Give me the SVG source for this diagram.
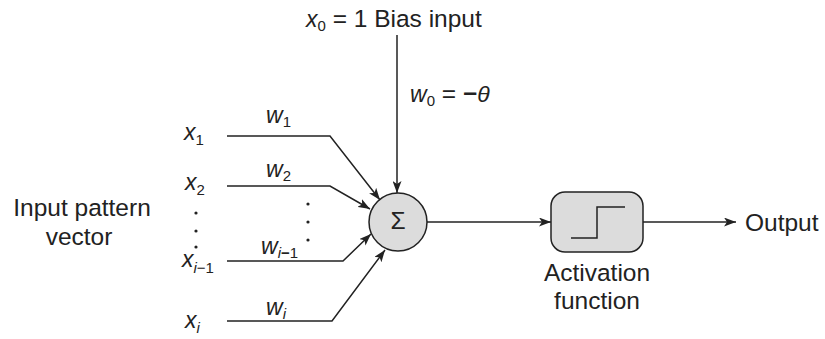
<svg xmlns="http://www.w3.org/2000/svg" width="825" height="339" viewBox="0 0 825 339">
<style>
.t{font-family:"Liberation Sans",Arial,sans-serif;font-size:24.5px;fill:#222}
.v{font-family:"Liberation Sans",Arial,sans-serif;font-style:italic;font-size:23px;fill:#222}
.s{font-family:"Liberation Sans",Arial,sans-serif;font-size:15px;fill:#222}
.si{font-family:"Liberation Sans",Arial,sans-serif;font-style:italic;font-size:15px;fill:#222}
.ln{fill:none;stroke:#222;stroke-width:1.5}
.dot{fill:#222}
</style>
<defs>
<marker id="ah" markerUnits="userSpaceOnUse" markerWidth="12" markerHeight="9" refX="12" refY="4.5" orient="auto">
<path d="M0,0 L12,4.5 L0,9 L3,4.5 z" fill="#222"/>
</marker>
</defs>
<rect width="825" height="339" fill="#fff"/>
<g id="connectors">
<polyline class="ln" points="397,35 397,193" marker-end="url(#ah)"/>
<polyline class="ln" points="227,136 330,136 380,200" marker-end="url(#ah)"/>
<polyline class="ln" points="227,186 330,186 370,209" marker-end="url(#ah)"/>
<polyline class="ln" points="227,261 343,261 371,234" marker-end="url(#ah)"/>
<polyline class="ln" points="227,321 332,321 385,250" marker-end="url(#ah)"/>
<line class="ln" x1="427" y1="222" x2="551" y2="222" marker-end="url(#ah)"/>
<line class="ln" x1="643" y1="222" x2="736" y2="222" marker-end="url(#ah)"/>
</g>
<g id="bias">
<text x="306" y="27"><tspan class="v">x</tspan><tspan class="s" dy="4">0</tspan><tspan class="t" dy="-4"> = 1 Bias input</tspan></text>
</g>
<g id="w0">
<text x="410" y="102"><tspan class="v">w</tspan><tspan class="s" dy="4">0</tspan><tspan class="t" dy="-4"> = </tspan><tspan class="t" font-weight="bold">−</tspan><tspan class="v">θ</tspan></text>
</g>
<g id="input-label">
<text class="t" x="82" y="216" text-anchor="middle">Input pattern</text>
<text class="t" x="79" y="245" text-anchor="middle">vector</text>
</g>
<g id="inputs">
<text x="184" y="140"><tspan class="v">x</tspan><tspan class="s" dy="5">1</tspan></text>
<text x="185" y="190"><tspan class="v">x</tspan><tspan class="s" dy="5">2</tspan></text>
<circle class="dot" cx="196" cy="213" r="1.6"/>
<circle class="dot" cx="196" cy="231" r="1.6"/>
<circle class="dot" cx="196" cy="247" r="1.6"/>
<text x="182" y="267"><tspan class="v">x</tspan><tspan class="si" dy="6">i</tspan><tspan class="s">−1</tspan></text>
<text x="185" y="328"><tspan class="v">x</tspan><tspan class="si" dy="5">i</tspan></text>
</g>
<g id="weights">
<text x="266" y="123"><tspan class="v">w</tspan><tspan class="s" dy="4">1</tspan></text>
<text x="266" y="177"><tspan class="v">w</tspan><tspan class="s" dy="4">2</tspan></text>
<circle class="dot" cx="308" cy="204" r="1.6"/>
<circle class="dot" cx="308" cy="222" r="1.6"/>
<circle class="dot" cx="308" cy="240" r="1.6"/>
<text x="261" y="254"><tspan class="v">w</tspan><tspan class="si" dy="4">i</tspan><tspan class="s" font-weight="bold">−</tspan><tspan class="s">1</tspan></text>
<text x="266" y="315"><tspan class="v">w</tspan><tspan class="si" dy="4">i</tspan></text>
</g>
<g id="sum">
<circle cx="398" cy="222" r="29" fill="#dcdcdc" stroke="#222" stroke-width="1.5"/>
<text class="t" x="398" y="229" text-anchor="middle" font-size="20">Σ</text>
</g>
<g id="activation">
<rect x="551" y="192" width="92" height="60" rx="14" fill="#dcdcdc" stroke="#222" stroke-width="1.5"/>
<polyline class="ln" points="571,238 597,238 597,207 625,207"/>
<text class="t" x="597" y="281" text-anchor="middle">Activation</text>
<text class="t" x="597" y="309" text-anchor="middle">function</text>
</g>
<g id="output">
<text class="t" x="745" y="231">Output</text>
</g>
</svg>
